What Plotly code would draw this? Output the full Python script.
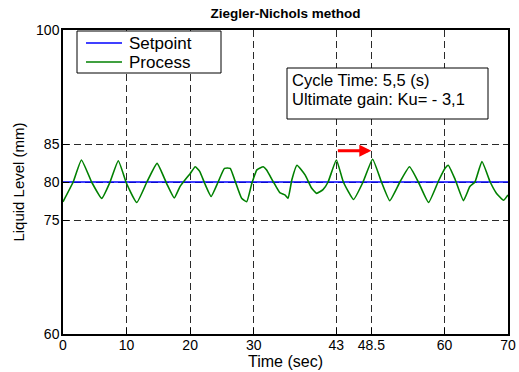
import plotly.graph_objects as go

# ---- data ----
time_s = [0, 1.6, 2.9, 4.5, 6.1, 7.4, 8.7, 10.0, 11.6, 13.2,
          14.8, 16.3, 17.5, 18.4, 19.4, 20.0, 20.8, 21.5, 22.3, 23.3,
          24.4, 25.4, 26.3, 27.0, 28.1, 28.9, 29.7, 30.5, 31.5, 32.0,
          33.1, 34.1, 34.9, 35.4, 36.0, 36.8, 38.1, 39.1, 39.9, 40.9,
          41.7, 43.0, 44.1, 45.7, 47.2, 48.7, 50.1, 51.4, 53.0, 54.5,
          55.9, 57.5, 59.1, 60.1, 60.6, 61.7, 63.0, 64.0, 64.8, 65.9,
          67.2, 68.2, 69.3, 70.0]
process = [77.4, 80.0, 82.9, 80.0, 77.85, 80.0, 82.8, 79.8, 77.3, 80.0,
           82.45, 79.8, 77.9, 79.4, 80.5, 81.1, 82.0, 81.4, 79.8, 78.1,
           80.0, 81.8, 81.8, 80.3, 77.85, 77.4, 79.8, 81.6, 82.0, 81.6,
           80.0, 78.6, 78.3, 77.85, 80.3, 82.2, 80.9, 79.2, 78.5, 79.0,
           80.0, 82.9, 80.0, 77.7, 80.0, 83.0, 80.0, 77.55, 80.0, 82.0,
           80.0, 77.3, 80.2, 81.8, 82.2, 80.3, 77.55, 79.4, 80.0, 82.7,
           80.0, 78.5, 77.6, 78.3]
setpoint_t = [0, 70]
setpoint_v = [80, 80]
series_names = ["Setpoint", "Process"]
series_colors = ["#0000ff", "#008000"]
x_ticks = [0, 10, 20, 30, 43, 48.5, 60, 70]
x_ticklabels = ["0", "10", "20", "30", "43", "48.5", "60", "70"]
y_ticks = [60, 75, 80, 85, 100]
arrow_t = [43, 48.5]
arrow_v = 84.1
title = "Ziegler-Nichols method"
info_lines = ["Cycle Time: 5,5 (s)", "Ultimate gain: Ku= - 3,1"]

FONT = "Liberation Sans, Arial, sans-serif"
W, H = 519, 372
L, R, T, B = 63, 508, 30, 334


def px(xp):
    return (xp - L) / (R - L)


def py(yp):
    return (B - yp) / (B - T)


fig = go.Figure()
fig.add_trace(go.Scatter(x=setpoint_t, y=setpoint_v, mode="lines", name=series_names[0],
                         line=dict(color=series_colors[0], width=1.5)))
fig.add_trace(go.Scatter(x=time_s, y=process, mode="lines", name=series_names[1],
                         line=dict(color=series_colors[1], width=1.6, shape="spline",
                                   smoothing=0.4)))

# red arrow
fig.add_annotation(x=arrow_t[1], y=arrow_v, ax=arrow_t[0], ay=arrow_v,
                   xref="x", yref="y", axref="x", ayref="y",
                   text="", showarrow=True, arrowhead=2, arrowsize=0.8,
                   arrowwidth=3, arrowcolor="#ff0000")

shapes = []
# legend box (drawn by hand to match the compact MATLAB legend)
shapes.append(dict(type="rect", xref="paper", yref="paper",
                   x0=px(77), x1=px(221), y0=py(73), y1=py(31),
                   fillcolor="white", line=dict(color="black", width=1), layer="above"))
for i, (nm, col) in enumerate(zip(series_names, series_colors)):
    yl = [43, 62][i]
    shapes.append(dict(type="line", xref="paper", yref="paper",
                       x0=px(86), x1=px(122), y0=py(yl), y1=py(yl),
                       line=dict(color=col, width=1.5), layer="above"))
    fig.add_annotation(x=px(127), y=py(yl), xref="paper", yref="paper",
                       xanchor="left", yanchor="middle", showarrow=False,
                       text=nm, font=dict(family=FONT, size=17, color="black"))

# info box
shapes.append(dict(type="rect", xref="paper", yref="paper",
                   x0=px(287), x1=px(488), y0=py(119), y1=py(68),
                   fillcolor="white", line=dict(color="black", width=1), layer="above"))
for i, txt in enumerate(info_lines):
    yl = [80, 99][i]
    fig.add_annotation(x=px(290), y=py(yl), xref="paper", yref="paper",
                       xanchor="left", yanchor="middle", showarrow=False,
                       text=txt, font=dict(family=FONT, size=16.5, color="black"))

fig.update_layout(
    width=W, height=H,
    margin=dict(l=L, r=W - R, t=T, b=H - B),
    paper_bgcolor="white", plot_bgcolor="white",
    font=dict(family=FONT, size=13, color="black"),
    title=dict(text="<b>" + title + "</b>", x=(L + R) / 2 / W, xanchor="center",
               y=1 - 13 / H, yanchor="middle", font=dict(size=13.5)),
    showlegend=False,
    shapes=shapes,
    xaxis=dict(range=[0, 70], tickvals=x_ticks, ticktext=x_ticklabels,
               showgrid=True, gridcolor="#2a2a2a", griddash="7px,4px", gridwidth=1,
               showline=True, linecolor="black", linewidth=1.5, mirror=True,
               ticks="inside", ticklen=6, tickcolor="black", zeroline=False,
               automargin=False, tickfont=dict(size=14), ticklabelstandoff=-3,
               title=dict(text="Time (sec)", font=dict(size=16), standoff=0)),
    yaxis=dict(range=[60, 100], tickvals=y_ticks,
               showgrid=True, gridcolor="#2a2a2a", griddash="7px,4px", gridwidth=1,
               showline=True, linecolor="black", linewidth=1.5, mirror=True,
               ticks="inside", ticklen=6, tickcolor="black", zeroline=False,
               automargin=False, tickfont=dict(size=14), ticklabelstandoff=-1,
               title=dict(text="Liquid Level (mm)", font=dict(size=15), standoff=8)),
)

fig.write_html("out.html")
